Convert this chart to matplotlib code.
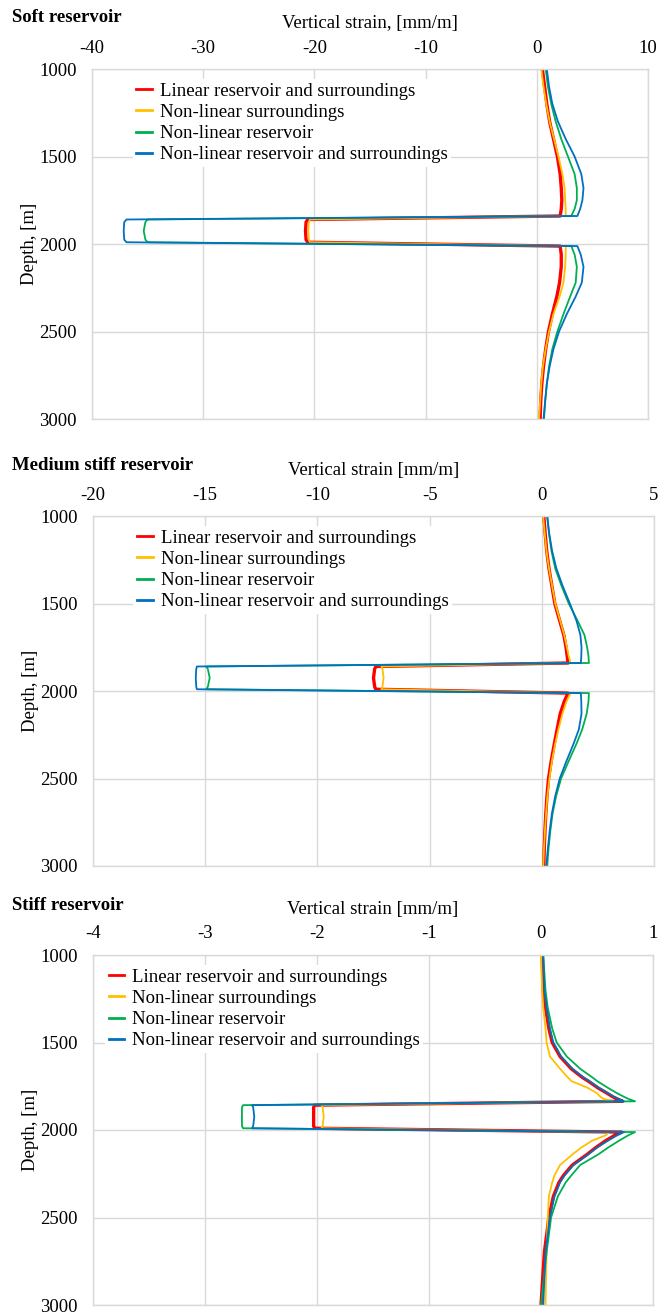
import matplotlib
matplotlib.use("Agg")
import matplotlib.pyplot as plt
import numpy as np

plt.rcParams['font.family'] = ['Liberation Serif', 'DejaVu Serif']
plt.rcParams['axes.unicode_minus'] = False

# ---------------- data ----------------
series_labels = ["Linear reservoir and surroundings", "Non-linear surroundings",
                 "Non-linear reservoir", "Non-linear reservoir and surroundings"]
series_colors = ["#FF0000", "#FFC000", "#00B050", "#0070C0"]

# Soft reservoir
soft_depth = [1000, 1100, 1200, 1300, 1400, 1500, 1600, 1680, 1750, 1800, 1840,
              1860, 1875, 1925, 1975, 1990,
              2012, 2060, 2130, 2220, 2300, 2400, 2500, 2600, 2700, 2800, 2900, 3000]
soft_red = [0.5, 0.7, 0.9, 1.15, 1.5, 1.85, 2.1, 2.2, 2.25, 2.2, 2.1,
            -20.6, -20.75, -20.8, -20.75, -20.6,
            2.1, 2.2, 2.2, 2.05, 1.8, 1.4, 1.05, 0.8, 0.6, 0.45, 0.35, 0.3]
soft_orange = [0.4, 0.6, 0.85, 1.15, 1.55, 1.95, 2.3, 2.5, 2.55, 2.6, 2.6,
               -20.4, -20.5, -20.55, -20.5, -20.4,
               2.6, 2.6, 2.55, 2.4, 2.05, 1.5, 1.1, 0.8, 0.55, 0.4, 0.3, 0.2]
soft_green = [0.8, 1.0, 1.3, 1.7, 2.2, 2.8, 3.4, 3.6, 3.6, 3.4, 3.1,
              -35.0, -35.2, -35.35, -35.2, -35.0,
              3.1, 3.4, 3.6, 3.5, 3.0, 2.4, 1.85, 1.4, 1.1, 0.9, 0.75, 0.65]
soft_blue = [0.9, 1.1, 1.4, 1.9, 2.6, 3.4, 4.0, 4.2, 4.1, 3.9, 3.65,
             -36.9, -37.1, -37.15, -37.1, -36.9,
             3.65, 3.95, 4.2, 4.05, 3.5, 2.7, 2.0, 1.5, 1.15, 0.9, 0.75, 0.6]

# Medium stiff reservoir
medium_depth = soft_depth
medium_red = [0.09, 0.15, 0.22, 0.32, 0.45, 0.58, 0.8, 0.98, 1.08, 1.13, 1.17,
              -7.4, -7.45, -7.5, -7.45, -7.4,
              1.17, 1.0, 0.82, 0.68, 0.56, 0.42, 0.3, 0.23, 0.18, 0.14, 0.11, 0.09]
medium_orange = [0.06, 0.13, 0.21, 0.32, 0.46, 0.6, 0.82, 1.0, 1.12, 1.2, 1.28,
                 -7.15, -7.1, -7.05, -7.1, -7.15,
                 1.28, 1.1, 0.92, 0.74, 0.6, 0.45, 0.34, 0.25, 0.19, 0.14, 0.1, 0.06]
medium_green = [0.24, 0.32, 0.43, 0.6, 0.88, 1.2, 1.6, 1.9, 2.02, 2.08, 2.1,
                -14.95, -14.88, -14.8, -14.88, -14.95,
                2.1, 2.08, 2.0, 1.8, 1.55, 1.2, 0.86, 0.64, 0.48, 0.38, 0.3, 0.24]
medium_blue = [0.24, 0.33, 0.46, 0.65, 0.93, 1.25, 1.55, 1.72, 1.77, 1.76, 1.74,
               -15.37, -15.4, -15.42, -15.4, -15.37,
               1.74, 1.76, 1.77, 1.65, 1.42, 1.1, 0.8, 0.6, 0.45, 0.35, 0.27, 0.2]

# Stiff reservoir
stiff_depth = [1000, 1200, 1300, 1420, 1500, 1580, 1650, 1700, 1720, 1760, 1790, 1810, 1822, 1836,
               1858, 1870, 1924, 1978, 1990,
               2012, 2030, 2060, 2100, 2140, 2200, 2260, 2300, 2380, 2500, 2700, 3000]
stiff_red = [0.01, 0.02, 0.04, 0.07, 0.1, 0.17, 0.27, 0.37, 0.42, 0.51, 0.59, 0.64, 0.68, 0.73,
             -2.02, -2.03, -2.03, -2.03, -2.02,
             0.72, 0.66, 0.58, 0.49, 0.41, 0.28, 0.2, 0.16, 0.11, 0.07, 0.03, 0.0]
stiff_orange = [0.0, 0.01, 0.02, 0.04, 0.05, 0.08, 0.17, 0.24, 0.27, 0.42, 0.5, 0.53, 0.56, 0.65,
                -1.96, -1.95, -1.94, -1.95, -1.96,
                0.61, 0.58, 0.46, 0.36, 0.28, 0.17, 0.12, 0.1, 0.07, 0.06, 0.05, 0.04]
stiff_green = [0.02, 0.04, 0.06, 0.1, 0.14, 0.23, 0.35, 0.46, 0.5, 0.6, 0.68, 0.74, 0.78, 0.84,
               -2.66, -2.67, -2.67, -2.67, -2.66,
               0.84, 0.78, 0.7, 0.6, 0.51, 0.35, 0.27, 0.22, 0.15, 0.09, 0.05, 0.0]
stiff_blue = [0.02, 0.03, 0.05, 0.08, 0.11, 0.18, 0.28, 0.38, 0.43, 0.52, 0.6, 0.65, 0.69, 0.74,
              -2.58, -2.57, -2.56, -2.57, -2.58,
              0.74, 0.68, 0.6, 0.5, 0.42, 0.29, 0.21, 0.17, 0.12, 0.08, 0.04, 0.02]

panel_titles = ["Soft reservoir", "Medium stiff reservoir", "Stiff reservoir"]
panel_xlabels = ["Vertical strain, [mm/m]", "Vertical strain [mm/m]", "Vertical strain [mm/m]"]
panel_xticks = [[-40, -30, -20, -10, 0, 10], [-20, -15, -10, -5, 0, 5], [-4, -3, -2, -1, 0, 1]]
depth_ticks = [1000, 1500, 2000, 2500, 3000]

panels = [
    (soft_depth, [soft_red, soft_orange, soft_green, soft_blue]),
    (medium_depth, [medium_red, medium_orange, medium_green, medium_blue]),
    (stiff_depth, [stiff_red, stiff_orange, stiff_green, stiff_blue]),
]

# ---------------- layout ----------------
W, H = 660, 1314
fig = plt.figure(figsize=(W / 100, H / 100), dpi=100)
boxes = [(92, 648, 69, 419), (93, 654, 516, 866), (93, 653, 955, 1305)]
title_y = [18, 466, 905]
legend_x = [0.073, 0.072, 0.021]
grid_c = "#D9D9D9"
fs = 13.5

for i, (depth, strains) in enumerate(panels):
    l, r, t, b = boxes[i]
    ax = fig.add_axes([l / W, 1 - b / H, (r - l) / W, (b - t) / H])
    widths = [2.4, 1.3, 1.3, 1.3]
    for s, c, lab, lw in zip(strains, series_colors, series_labels, widths):
        ax.plot(s, depth, color=c, lw=lw, label=lab, solid_joinstyle='round')
    ax.set_xlim(panel_xticks[i][0], panel_xticks[i][-1])
    ax.set_ylim(3000, 1000)
    ax.set_xticks(panel_xticks[i])
    ax.set_yticks(depth_ticks)
    ax.xaxis.tick_top()
    ax.xaxis.set_label_position('top')
    ax.tick_params(length=0, labelsize=fs, colors="#000000")
    ax.tick_params(axis='x', pad=9)
    ax.tick_params(axis='y', pad=11)
    ax.grid(True, color=grid_c, lw=1.0)
    ax.set_axisbelow(True)
    for sp in ax.spines.values():
        sp.set_color(grid_c)
        sp.set_linewidth(1.0)
    ax.set_xlabel(panel_xlabels[i], fontsize=fs, labelpad=8)
    ax.set_ylabel("Depth, [m]", fontsize=fs, labelpad=1)
    leg = ax.legend(loc='upper left', bbox_to_anchor=(legend_x[i], 0.972),
                    fontsize=fs, frameon=True, facecolor='white', edgecolor='none',
                    framealpha=1.0, fancybox=False, handlelength=0.85, handletextpad=0.4,
                    labelspacing=0.22, borderpad=0.2, borderaxespad=0.0)
    for h in leg.get_lines():
        h.set_linewidth(2.0)
    fig.text(12 / W, 1 - title_y[i] / H, panel_titles[i], fontsize=fs, fontweight='bold',
             ha='left', va='center')

fig.savefig("out.png", dpi=100)
